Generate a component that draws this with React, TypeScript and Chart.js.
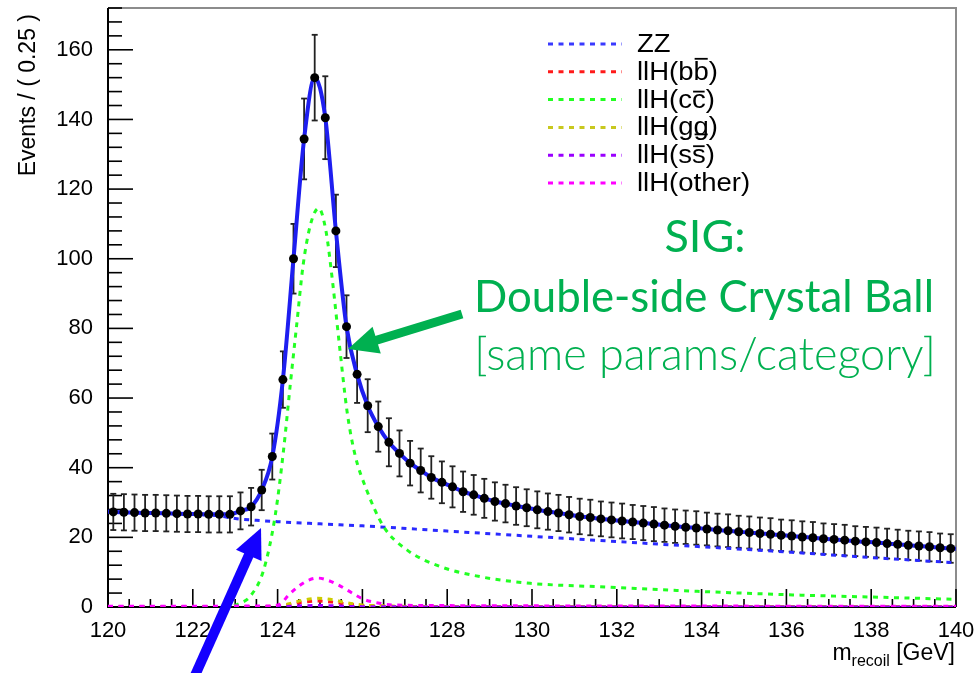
import React, { useEffect, useRef } from 'react';
import { Chart, registerables } from 'chart.js';

Chart.register(...registerables);

// ---------- data ----------
const binCenters = [
  120.125, 120.375, 120.625, 120.875, 121.125, 121.375, 121.625, 121.875,
  122.125, 122.375, 122.625, 122.875, 123.125, 123.375, 123.625, 123.875,
  124.125, 124.375, 124.625, 124.875, 125.125, 125.375, 125.625, 125.875,
  126.125, 126.375, 126.625, 126.875, 127.125, 127.375, 127.625, 127.875,
  128.125, 128.375, 128.625, 128.875, 129.125, 129.375, 129.625, 129.875,
  130.125, 130.375, 130.625, 130.875, 131.125, 131.375, 131.625, 131.875,
  132.125, 132.375, 132.625, 132.875, 133.125, 133.375, 133.625, 133.875,
  134.125, 134.375, 134.625, 134.875, 135.125, 135.375, 135.625, 135.875,
  136.125, 136.375, 136.625, 136.875, 137.125, 137.375, 137.625, 137.875,
  138.125, 138.375, 138.625, 138.875, 139.125, 139.375, 139.625, 139.875,
];

const eventCounts = [
  27.3, 27.2, 27.1, 27.0, 27.0, 26.9, 26.8, 26.7,
  26.7, 26.6, 26.6, 26.6, 27.6, 28.8, 33.6, 43.2,
  65.3, 100.0, 134.4, 152.0, 140.5, 108.0, 80.5, 66.8,
  57.8, 51.8, 47.3, 44.1, 41.3, 39.2, 37.2, 35.8,
  34.5, 33.1, 32.2, 31.2, 30.3, 29.7, 29.0, 28.5,
  27.9, 27.4, 27.0, 26.5, 26.0, 25.7, 25.3, 25.0,
  24.7, 24.4, 24.1, 23.8, 23.5, 23.2, 22.9, 22.7,
  22.4, 22.1, 21.9, 21.6, 21.4, 21.1, 20.9, 20.6,
  20.4, 20.1, 19.9, 19.6, 19.4, 19.2, 18.9, 18.7,
  18.5, 18.2, 18.0, 17.7, 17.5, 17.3, 17.0, 16.8,
];

const eventErrors = [
  5.2, 5.2, 5.2, 5.2, 5.2, 5.2, 5.2, 5.2,
  5.2, 5.2, 5.2, 5.2, 5.3, 5.4, 5.8, 6.6,
  8.1, 10.0, 11.6, 12.3, 11.9, 10.4, 9.0, 8.2,
  7.6, 7.2, 6.9, 6.6, 6.4, 6.3, 6.1, 6.0,
  5.9, 5.8, 5.7, 5.6, 5.5, 5.4, 5.4, 5.3,
  5.3, 5.2, 5.2, 5.1, 5.1, 5.1, 5.0, 5.0,
  5.0, 4.9, 4.9, 4.9, 4.8, 4.8, 4.8, 4.8,
  4.7, 4.7, 4.7, 4.6, 4.6, 4.6, 4.6, 4.5,
  4.5, 4.5, 4.5, 4.4, 4.4, 4.4, 4.3, 4.3,
  4.3, 4.3, 4.2, 4.2, 4.2, 4.2, 4.1, 4.1,
];

const fitEdgeMass = [120, 140];
const fitEdgeYield = [27.4, 16.7];

const zzMass = [120, 121, 122, 122.6, 123.0, 123.5, 124, 125, 126, 128, 130, 132, 134, 136, 138, 140];
const zzYield = [27.3, 27.0, 26.6, 26.2, 25.4, 24.9, 24.5, 23.9, 23.3, 21.8, 20.3, 18.8, 17.3, 15.8, 14.2, 12.7];

const ccMass = [120, 122, 122.9, 123.12, 123.35, 123.67, 123.94, 124.14, 124.3, 124.45, 124.6, 124.78, 124.97, 125.14, 125.3, 125.46, 125.64, 125.82, 126.1, 126.5, 127.05, 127.84, 128.78, 129.96, 131.6, 133.9, 136.34, 138.2, 140];
const ccYield = [0, 0.1, 0.3, 1.1, 3.0, 10.6, 26, 45, 64, 81, 98, 110, 114.5, 108, 93, 75, 56, 44, 33.6, 23.1, 16.4, 11.6, 8.7, 6.8, 5.8, 4.5, 3.4, 2.8, 2.2];

const otherMass = [120, 123.8, 124.06, 124.25, 124.5, 124.75, 124.95, 125.2, 125.45, 125.65, 126.03, 126.4, 126.7, 128, 140];
const otherYield = [0.2, 0.3, 0.8, 3.3, 6.0, 7.8, 8.3, 7.6, 6.2, 4.8, 2.2, 1.1, 0.6, 0.4, 0.2];

const smallMass = [120, 123.9, 124.3, 124.6, 124.95, 125.3, 125.6, 126, 126.6, 128, 140];
const ggYield = [0, 0.2, 1.0, 2.0, 2.5, 2.1, 1.3, 0.6, 0.3, 0.1, 0.05];
const bbYield = [0, 0.1, 0.7, 1.4, 1.7, 1.4, 0.9, 0.4, 0.2, 0.1, 0.05];
const ssYield = [0, 0.05, 0.2, 0.35, 0.45, 0.35, 0.2, 0.1, 0.05, 0.02, 0];

const legendEntries = [
  { pre: 'ZZ', bar: '', post: '', barDy: 0, color: '#3a3aff' },
  { pre: 'llH(b', bar: 'b', post: ')', barDy: -21, color: '#ff1a1a' },
  { pre: 'llH(c', bar: 'c', post: ')', barDy: -16, color: '#22ff22' },
  { pre: 'llH(g', bar: 'g', post: ')', barDy: -1, color: '#c8c81e' },
  { pre: 'llH(s', bar: 's', post: ')', barDy: -17, color: '#9a00ff' },
  { pre: 'llH(other)', bar: '', post: '', barDy: 0, color: '#ff00ff' },
];

const yAxisTitle = 'Events / ( 0.25 )';
const sigTitle = 'SIG:';
const sigLine1 = 'Double-side Crystal Ball';
const sigLine2 = '[same params/category]';

// ---------- helpers ----------
const pts = (xs: number[], ys: number[]) => xs.map((x, i) => ({ x, y: ys[i] }));
const FONT = '"Liberation Sans", Arial, sans-serif';
const GREEN = '#00b050';

function line(ctx: CanvasRenderingContext2D, x1: number, y1: number, x2: number, y2: number) {
  ctx.beginPath();
  ctx.moveTo(x1, y1);
  ctx.lineTo(x2, y2);
  ctx.stroke();
}

function arrow(ctx: CanvasRenderingContext2D, x1: number, y1: number, x2: number, y2: number,
  w: number, hl: number, hw: number, color: string) {
  const ang = Math.atan2(y2 - y1, x2 - x1);
  const c = Math.cos(ang), s = Math.sin(ang);
  const bx = x2 - hl * c, by = y2 - hl * s;
  ctx.strokeStyle = color;
  ctx.lineWidth = w;
  ctx.lineCap = 'butt';
  line(ctx, x1, y1, bx + 2 * c, by + 2 * s);
  ctx.fillStyle = color;
  ctx.beginPath();
  ctx.moveTo(x2, y2);
  ctx.lineTo(bx + hw * s, by - hw * c);
  ctx.lineTo(bx - hw * s, by + hw * c);
  ctx.closePath();
  ctx.fill();
}

const overlay = {
  id: 'overlay',
  beforeDatasetsDraw(chart: any) {
    const { ctx, chartArea: a, scales } = chart;
    const x = scales.x, y = scales.y;
    ctx.save();
    // frame
    ctx.lineWidth = 2;
    ctx.strokeStyle = '#8c8c8c';
    ctx.beginPath();
    ctx.moveTo(a.left, a.top);
    ctx.lineTo(a.right, a.top);
    ctx.lineTo(a.right, a.bottom);
    ctx.stroke();
    ctx.strokeStyle = '#000';
    ctx.beginPath();
    ctx.moveTo(a.left, a.top);
    ctx.lineTo(a.left, a.bottom);
    ctx.lineTo(a.right, a.bottom);
    ctx.stroke();
    // y ticks (inward)
    ctx.lineWidth = 1.6;
    for (let v = 0; v <= y.max; v += 4) {
      const py = y.getPixelForValue(v);
      const len = v % 20 === 0 ? 25 : 14;
      line(ctx, a.left, py, a.left + len, py);
    }
    // x ticks (inward)
    for (let v = x.min; v <= x.max + 1e-6; v += 0.5) {
      const px = x.getPixelForValue(v);
      const len = Math.abs(v % 2) < 1e-6 ? 18 : 8;
      line(ctx, px, a.bottom, px, a.bottom - len);
    }
    // error bars
    ctx.strokeStyle = '#222';
    ctx.lineWidth = 1.8;
    binCenters.forEach((m, i) => {
      const px = x.getPixelForValue(m);
      const top = y.getPixelForValue(eventCounts[i] + eventErrors[i]);
      const bot = y.getPixelForValue(eventCounts[i] - eventErrors[i]);
      line(ctx, px, top, px, bot);
      line(ctx, px - 3, top, px + 3, top);
      line(ctx, px - 3, bot, px + 3, bot);
    });
    ctx.restore();
  },
  afterDraw(chart: any) {
    const { ctx } = chart;
    ctx.save();
    // legend
    legendEntries.forEach((e, i) => {
      const cy = 44 + i * 27.8;
      ctx.strokeStyle = e.color;
      ctx.lineWidth = 3;
      ctx.setLineDash([5, 5.5]);
      line(ctx, 548, cy, 622, cy);
      ctx.setLineDash([]);
      ctx.save();
      ctx.translate(637, cy + 8);
      ctx.scale(1.1, 1);
      ctx.font = '25px ' + FONT;
      ctx.fillStyle = '#000';
      ctx.textAlign = 'left';
      ctx.textBaseline = 'alphabetic';
      let xx = 0;
      ctx.fillText(e.pre, 0, 0);
      xx += ctx.measureText(e.pre).width;
      if (e.bar) {
        ctx.fillText(e.bar, xx, 0);
        const w = ctx.measureText(e.bar).width;
        ctx.strokeStyle = '#000';
        ctx.lineWidth = 1.8;
        line(ctx, xx + 1, e.barDy, xx + w - 1, e.barDy);
        xx += w;
        ctx.fillText(e.post, xx, 0);
      }
      ctx.restore();
    });

    // y axis title
    ctx.save();
    ctx.translate(29, 14);
    ctx.rotate(-Math.PI / 2);
    ctx.textAlign = 'right';
    ctx.textBaseline = 'middle';
    ctx.fillStyle = '#000';
    ctx.font = '23px ' + FONT;
    ctx.fillText(yAxisTitle, 0, 0);
    ctx.restore();

    // x axis title with subscript
    ctx.fillStyle = '#000';
    ctx.textAlign = 'left';
    ctx.textBaseline = 'alphabetic';
    const mainF = '23px ' + FONT, subF = '16px ' + FONT;
    ctx.font = mainF;
    const wM = ctx.measureText('m').width;
    const wT = ctx.measureText(' [GeV]').width;
    ctx.font = subF;
    const wS = ctx.measureText('recoil').width;
    const x0 = 955 - (wM + wS + wT);
    ctx.font = mainF;
    ctx.fillText('m', x0, 660);
    ctx.font = subF;
    ctx.fillText('recoil', x0 + wM, 666);
    ctx.font = mainF;
    ctx.fillText(' [GeV]', x0 + wM + wS, 660);

    // annotation text
    ctx.fillStyle = GREEN;
    ctx.textAlign = 'center';
    ctx.font = '45px Lato, "Open Sans", sans-serif';
    ctx.fillText(sigTitle, 705, 252);
    ctx.fillText(sigLine1, 704, 312, 460);
    ctx.font = '300 45px Lato, "Open Sans", sans-serif';
    ctx.fillText(sigLine2, 705, 370, 470);

    // arrows
    arrow(ctx, 462, 314, 348, 349, 9, 30, 14, GREEN);
    arrow(ctx, 193, 680, 261, 528, 10, 30, 14, '#1400ff');
    ctx.restore();
  },
};

export default function App() {
  const ref = useRef<HTMLCanvasElement>(null);
  useEffect(() => {
    if (!ref.current) return;
    Chart.defaults.font.family = FONT;
    const dashed = (label: string, xs: number[], ys: number[], color: string) => ({
      label,
      data: pts(xs, ys),
      borderColor: color,
      backgroundColor: color,
      borderWidth: 3,
      borderDash: [5, 5.5],
      pointRadius: 0,
      cubicInterpolationMode: 'monotone' as const,
      fill: false,
    });
    const chart = new Chart(ref.current, {
      type: 'line',
      data: {
        datasets: [
          {
            label: 'data',
            data: pts(binCenters, eventCounts),
            showLine: false,
            pointRadius: 4.5,
            pointBorderWidth: 0,
            pointBackgroundColor: '#000',
            borderColor: '#000',
          },
          {
            label: 'total',
            data: pts([fitEdgeMass[0], ...binCenters, fitEdgeMass[1]], [fitEdgeYield[0], ...eventCounts, fitEdgeYield[1]]),
            borderColor: '#1e1ef0',
            borderWidth: 4,
            pointRadius: 0,
            cubicInterpolationMode: 'monotone',
            fill: false,
          },
          dashed('llH(other)', otherMass, otherYield, '#ff00ff'),
          dashed('llH(ss)', smallMass, ssYield, '#9a00ff'),
          dashed('llH(gg)', smallMass, ggYield, '#cccc00'),
          dashed('llH(bb)', smallMass, bbYield, '#ff1a1a'),
          dashed('llH(cc)', ccMass, ccYield, '#22ff22'),
          dashed('ZZ', zzMass, zzYield, '#2a2aff'),
        ],
      },
      options: {
        responsive: false,
        animation: false,
        layout: { padding: { left: 0, right: 24, top: 8, bottom: 0 } },
        plugins: { legend: { display: false }, tooltip: { enabled: false } },
        scales: {
          x: {
            type: 'linear',
            min: 120,
            max: 140,
            grid: { display: false },
            border: { display: false },
            ticks: {
              stepSize: 2,
              color: '#000',
              font: { family: FONT, size: 22 },
              padding: 3,
              maxRotation: 0,
              autoSkip: false,
            },
            afterFit: (s: any) => { s.height = 66; s.paddingLeft = 0; s.paddingRight = 0; },
          },
          y: {
            type: 'linear',
            min: 0,
            max: 172,
            grid: { display: false },
            border: { display: false },
            ticks: {
              stepSize: 20,
              color: '#000',
              font: { family: FONT, size: 22 },
              padding: 7,
            },
            afterBuildTicks: (s: any) => { s.ticks = s.ticks.filter((t: any) => t.value % 20 === 0); },
            afterFit: (s: any) => { s.width = 108; s.paddingTop = 0; s.paddingBottom = 0; },
          },
        },
      },
      plugins: [overlay],
    } as any);
    return () => chart.destroy();
  }, []);
  return (
    <div style={{ position: 'absolute', left: 0, top: 0, width: 980, height: 673, background: '#fff' }}>
      <canvas ref={ref} width={980} height={673} style={{ display: 'block', width: 980, height: 673 }} />
    </div>
  );
}
